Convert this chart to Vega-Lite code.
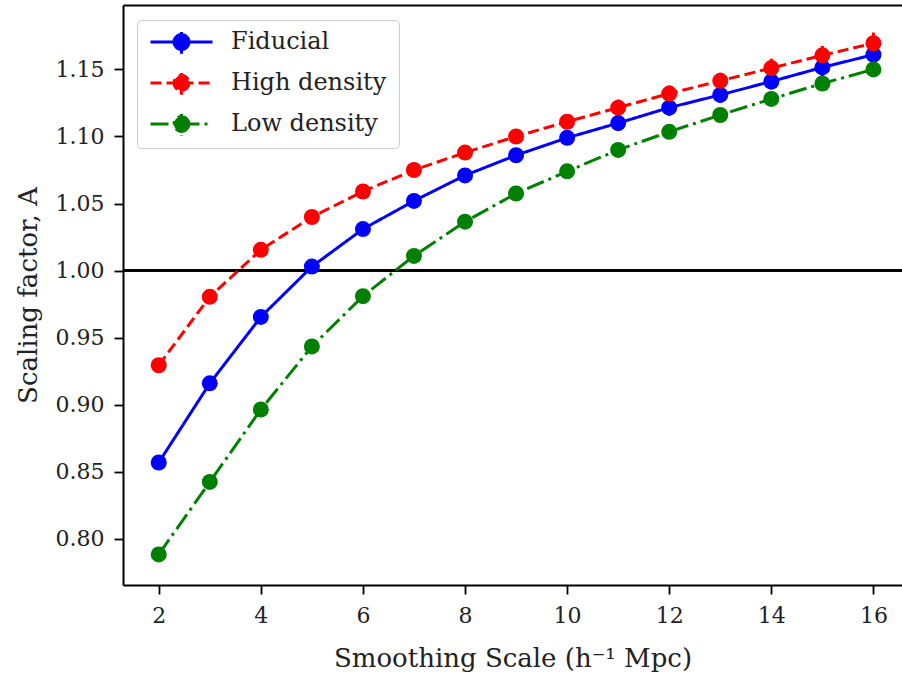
{
  "$schema": "https://vega.github.io/schema/vega-lite/v6.json",
  "width": 779,
  "height": 580,
  "autosize": {"type": "none"},
  "padding": {"left": 123, "top": 5, "right": 0, "bottom": 92},
  "background": "white",
  "config": {
    "view": {"stroke": null},
    "font": "DejaVu Serif",
    "axis": {
      "domainColor": "#000",
      "domainWidth": 2,
      "tickColor": "#000",
      "tickWidth": 1.8,
      "tickSize": 9,
      "labelFont": "DejaVu Serif",
      "labelFontSize": 22,
      "labelColor": "#222",
      "titleFont": "DejaVu Serif",
      "titleFontSize": 26,
      "titleFontWeight": "normal",
      "titleColor": "#222",
      "grid": false
    },
    "legend": {
      "orient": "none",
      "legendX": 14,
      "legendY": 15,
      "padding": 12,
      "strokeColor": "#cccccc",
      "fillColor": "rgba(255,255,255,0.85)",
      "cornerRadius": 4,
      "labelFont": "DejaVu Serif",
      "labelFontSize": 24,
      "labelColor": "#222",
      "labelOffset": 17,
      "symbolType": "M-1,0L1,0M0,-0.38L0,0.38M0.24,0A0.24,0.24 0 1,1 -0.24,0A0.24,0.24 0 1,1 0.24,0Z",
      "symbolSize": 3844,
      "symbolStrokeWidth": 3,
      "clipHeight": 20,
      "rowPadding": 17
    }
  },
  "data": {
    "values": [
      {"s": 2, "series": "Fiducial", "A": 0.857, "err": 0.002},
      {"s": 3, "series": "Fiducial", "A": 0.916, "err": 0.002},
      {"s": 4, "series": "Fiducial", "A": 0.9655, "err": 0.003},
      {"s": 5, "series": "Fiducial", "A": 1.003, "err": 0.003},
      {"s": 6, "series": "Fiducial", "A": 1.031, "err": 0.004},
      {"s": 7, "series": "Fiducial", "A": 1.052, "err": 0.004},
      {"s": 8, "series": "Fiducial", "A": 1.071, "err": 0.005},
      {"s": 9, "series": "Fiducial", "A": 1.086, "err": 0.005},
      {"s": 10, "series": "Fiducial", "A": 1.099, "err": 0.005},
      {"s": 11, "series": "Fiducial", "A": 1.110, "err": 0.006},
      {"s": 12, "series": "Fiducial", "A": 1.1215, "err": 0.006},
      {"s": 13, "series": "Fiducial", "A": 1.131, "err": 0.006},
      {"s": 14, "series": "Fiducial", "A": 1.141, "err": 0.006},
      {"s": 15, "series": "Fiducial", "A": 1.1515, "err": 0.007},
      {"s": 16, "series": "Fiducial", "A": 1.161, "err": 0.007},
      {"s": 2, "series": "High density", "A": 0.9295, "err": 0.002},
      {"s": 3, "series": "High density", "A": 0.9805, "err": 0.002},
      {"s": 4, "series": "High density", "A": 1.0155, "err": 0.003},
      {"s": 5, "series": "High density", "A": 1.040, "err": 0.003},
      {"s": 6, "series": "High density", "A": 1.059, "err": 0.004},
      {"s": 7, "series": "High density", "A": 1.075, "err": 0.004},
      {"s": 8, "series": "High density", "A": 1.088, "err": 0.005},
      {"s": 9, "series": "High density", "A": 1.100, "err": 0.005},
      {"s": 10, "series": "High density", "A": 1.111, "err": 0.005},
      {"s": 11, "series": "High density", "A": 1.1215, "err": 0.006},
      {"s": 12, "series": "High density", "A": 1.132, "err": 0.006},
      {"s": 13, "series": "High density", "A": 1.1415, "err": 0.006},
      {"s": 14, "series": "High density", "A": 1.151, "err": 0.007},
      {"s": 15, "series": "High density", "A": 1.1605, "err": 0.007},
      {"s": 16, "series": "High density", "A": 1.1695, "err": 0.008},
      {"s": 2, "series": "Low density", "A": 0.7885, "err": 0.002},
      {"s": 3, "series": "Low density", "A": 0.8425, "err": 0.002},
      {"s": 4, "series": "Low density", "A": 0.8965, "err": 0.002},
      {"s": 5, "series": "Low density", "A": 0.9435, "err": 0.003},
      {"s": 6, "series": "Low density", "A": 0.981, "err": 0.003},
      {"s": 7, "series": "Low density", "A": 1.011, "err": 0.003},
      {"s": 8, "series": "Low density", "A": 1.0365, "err": 0.004},
      {"s": 9, "series": "Low density", "A": 1.0575, "err": 0.004},
      {"s": 10, "series": "Low density", "A": 1.074, "err": 0.004},
      {"s": 11, "series": "Low density", "A": 1.090, "err": 0.004},
      {"s": 12, "series": "Low density", "A": 1.1035, "err": 0.005},
      {"s": 13, "series": "Low density", "A": 1.116, "err": 0.005},
      {"s": 14, "series": "Low density", "A": 1.128, "err": 0.005},
      {"s": 15, "series": "Low density", "A": 1.1395, "err": 0.005},
      {"s": 16, "series": "Low density", "A": 1.150, "err": 0.005}
    ]
  },
  "resolve": {"axis": {"x": "independent", "y": "independent"}},
  "layer": [
    {
      "mark": {"type": "rule", "color": "#000", "strokeWidth": 2.5},
      "encoding": {
        "y": {"datum": 1, "type": "quantitative", "scale": {"domain": [0.7657, 1.198], "nice": false, "zero": false}, "axis": null}
      }
    },
    {
      "mark": {"type": "errorbar", "ticks": false, "thickness": 3},
      "encoding": {
        "x": {"field": "s", "type": "quantitative", "scale": {"domain": [1.3, 16.56], "nice": false, "zero": false}, "axis": null},
        "y": {"field": "A", "type": "quantitative", "scale": {"domain": [0.7657, 1.198], "nice": false, "zero": false}, "axis": null},
        "yError": {"field": "err"},
        "color": {"field": "series", "type": "nominal"}
      }
    },
    {
      "mark": {"type": "line", "strokeWidth": 3},
      "encoding": {
        "x": {
          "field": "s", "type": "quantitative",
          "scale": {"domain": [1.3, 16.56], "nice": false, "zero": false},
          "axis": {"values": [2, 4, 6, 8, 10, 12, 14, 16], "labelPadding": 11, "titlePadding": 19, "title": "Smoothing Scale (h⁻¹ Mpc)"}
        },
        "y": {
          "field": "A", "type": "quantitative",
          "scale": {"domain": [0.7657, 1.198], "nice": false, "zero": false},
          "axis": {"values": [0.8, 0.85, 0.9, 0.95, 1.0, 1.05, 1.1, 1.15], "format": ".2f", "labelPadding": 10, "titlePadding": 14, "title": "Scaling factor, A"}
        },
        "color": {
          "field": "series", "type": "nominal",
          "scale": {"domain": ["Fiducial", "High density", "Low density"], "range": ["#0000ff", "#ff0000", "#008000"]},
          "legend": {
            "title": null,
            "encode": {
              "symbols": {
                "update": {
                  "fill": {"scale": "color", "field": "value"},
                  "stroke": {"scale": "color", "field": "value"},
                  "strokeDash": {"scale": "strokeDash", "field": "value"}
                }
              }
            }
          }
        },
        "strokeDash": {
          "field": "series", "type": "nominal",
          "scale": {"domain": ["Fiducial", "High density", "Low density"], "range": [[1, 0], [11, 5], [18, 5, 3, 5]]},
          "legend": {"title": null}
        }
      }
    },
    {
      "mark": {"type": "point", "filled": true, "opacity": 1, "size": 256, "shape": "circle"},
      "encoding": {
        "x": {
          "field": "s", "type": "quantitative",
          "scale": {"domain": [1.3, 16.56], "nice": false, "zero": false},
          "axis": {"orient": "top", "labels": false, "ticks": false, "title": null, "domain": true, "domainWidth": 2}
        },
        "y": {"field": "A", "type": "quantitative", "scale": {"domain": [0.7657, 1.198], "nice": false, "zero": false}, "axis": null},
        "color": {"field": "series", "type": "nominal"}
      }
    }
  ]
}
